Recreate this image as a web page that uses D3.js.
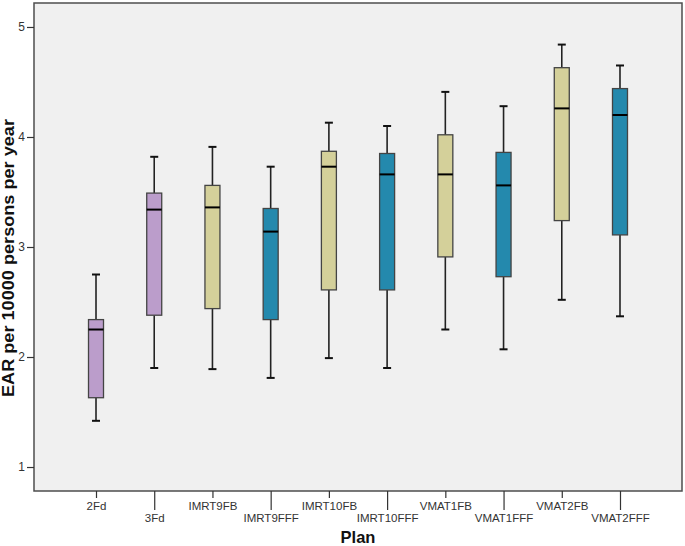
<!DOCTYPE html>
<html><head><meta charset="utf-8">
<script src="https://cdn.jsdelivr.net/npm/d3@7"></script>
<style>body{margin:0;background:#fff}svg{display:block}text{font-family:"Liberation Sans",Arial,sans-serif}</style>
</head><body><svg id="c" width="685" height="546"></svg>
<script>
const categories = ["2Fd","3Fd","IMRT9FB","IMRT9FFF","IMRT10FB","IMRT10FFF","VMAT1FB","VMAT1FFF","VMAT2FB","VMAT2FFF"];
const groups = ["fd","fd","FB","FFF","FB","FFF","FB","FFF","FB","FFF"];
const whiskerLow = [1.42,1.90,1.89,1.81,1.99,1.90,2.25,2.07,2.52,2.37];
const q1 =         [1.63,2.38,2.44,2.34,2.61,2.61,2.91,2.73,3.24,3.11];
const median =     [2.25,3.34,3.36,3.14,3.73,3.66,3.66,3.56,4.26,4.20];
const q3 =         [2.34,3.49,3.56,3.35,3.87,3.85,4.02,3.86,4.63,4.44];
const whiskerHigh =[2.75,3.82,3.91,3.73,4.13,4.10,4.41,4.28,4.84,4.65];
const yTicks = [1,2,3,4,5];
const colors = {fd:"#bb9dcb", FB:"#d4d09a", FFF:"#2489ad"};

const svg = d3.select("#c");
const L=34, R=682, T=3, B=491;
const x = d3.scalePoint().domain(categories).range([L,R]).padding(1.065);
const y = d3.scaleLinear().domain([0.782,5.218]).range([B,T]);

svg.append("rect").attr("x",L).attr("y",T).attr("width",R-L).attr("height",B-T)
  .attr("fill","#f0f0f0").attr("stroke","#4d4d4d").attr("stroke-width",1.5);

// y axis
const ya = svg.append("g").attr("transform",`translate(${L},0)`)
  .call(d3.axisLeft(y).tickValues(yTicks).tickSize(7).tickPadding(2).tickFormat(d3.format("d")));
ya.select(".domain").remove();
ya.selectAll(".tick line").attr("stroke","#333").attr("stroke-width",1.2);
ya.selectAll(".tick text").attr("fill","#333").attr("font-size",12);

// x axis
const xa = svg.append("g").attr("transform",`translate(0,${B})`)
  .call(d3.axisBottom(x).tickSizeOuter(0));
xa.select(".domain").remove();
xa.selectAll(".tick").each(function(d,i){
  const g=d3.select(this);
  const long = i%2===1;
  g.select("line").attr("y2", long?19:7).attr("stroke","#333").attr("stroke-width",1.2);
  g.select("text").attr("y", long?23:11).attr("dy","0.71em").attr("fill","#333").attr("font-size",11.5);
});

// boxes
const bw=15, cw=8;
const data = categories.map((c,i)=>({c,g:groups[i],lo:whiskerLow[i],q1:q1[i],md:median[i],q3:q3[i],hi:whiskerHigh[i]}));
const bx = svg.append("g").selectAll("g").data(data).join("g");
bx.append("line").attr("x1",d=>x(d.c)).attr("x2",d=>x(d.c)).attr("y1",d=>y(d.hi)).attr("y2",d=>y(d.q3)).attr("stroke","#222").attr("stroke-width",1.6);
bx.append("line").attr("x1",d=>x(d.c)).attr("x2",d=>x(d.c)).attr("y1",d=>y(d.q1)).attr("y2",d=>y(d.lo)).attr("stroke","#222").attr("stroke-width",1.6);
bx.append("line").attr("x1",d=>x(d.c)-cw/2).attr("x2",d=>x(d.c)+cw/2).attr("y1",d=>y(d.hi)).attr("y2",d=>y(d.hi)).attr("stroke","#111").attr("stroke-width",2);
bx.append("line").attr("x1",d=>x(d.c)-cw/2).attr("x2",d=>x(d.c)+cw/2).attr("y1",d=>y(d.lo)).attr("y2",d=>y(d.lo)).attr("stroke","#111").attr("stroke-width",2);
bx.append("rect").attr("x",d=>x(d.c)-bw/2).attr("width",bw).attr("y",d=>y(d.q3)).attr("height",d=>y(d.q1)-y(d.q3))
  .attr("fill",d=>colors[d.g]).attr("stroke","#444").attr("stroke-width",1.3);
bx.append("line").attr("x1",d=>x(d.c)-bw/2).attr("x2",d=>x(d.c)+bw/2).attr("y1",d=>y(d.md)).attr("y2",d=>y(d.md)).attr("stroke","#000").attr("stroke-width",2);

// titles
svg.append("text").attr("transform",`translate(14,258) rotate(-90)`).attr("text-anchor","middle")
  .attr("font-weight","bold").attr("font-size",16.5).attr("fill","#111")
  .attr("textLength",278).attr("lengthAdjust","spacingAndGlyphs").text("EAR per 10000 persons per year");
svg.append("text").attr("x",358).attr("y",543).attr("text-anchor","middle")
  .attr("font-weight","bold").attr("font-size",16.5).attr("fill","#111").text("Plan");
</script></body></html>
